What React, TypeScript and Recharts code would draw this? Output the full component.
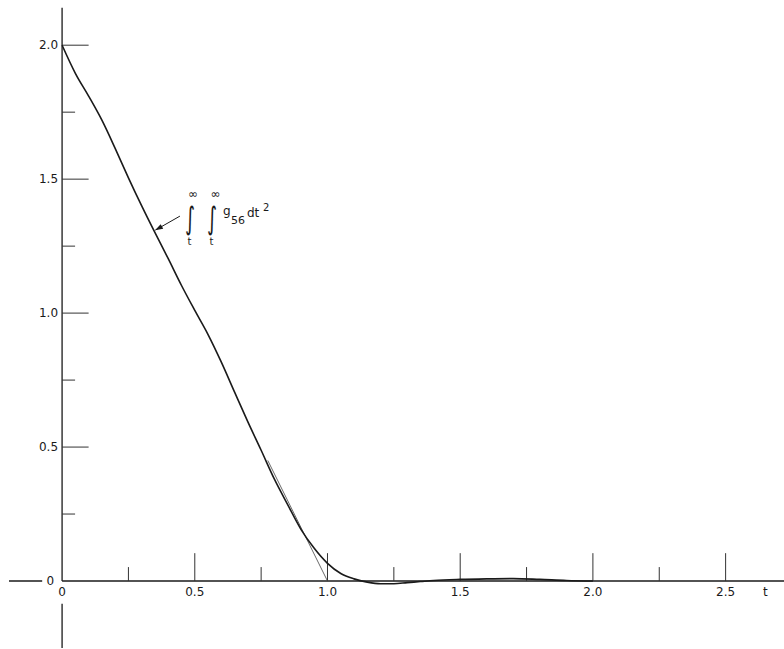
import { ComposedChart, Line, XAxis, YAxis, ReferenceLine, ReferenceDot } from 'recharts';

// curve
const tValues = [0, 0.05, 0.1, 0.15, 0.2, 0.25, 0.3, 0.35, 0.4, 0.45, 0.5, 0.55, 0.6, 0.65, 0.7, 0.75, 0.8, 0.85, 0.9, 0.95, 1.0, 1.05, 1.1, 1.15, 1.2, 1.25, 1.3, 1.35, 1.4, 1.5, 1.6, 1.7, 1.8, 1.9, 2.0];
const gValues = [2.0, 1.895, 1.81, 1.72, 1.615, 1.505, 1.4, 1.3, 1.203, 1.103, 1.01, 0.92, 0.817, 0.705, 0.594, 0.488, 0.38, 0.285, 0.193, 0.122, 0.066, 0.028, 0.008, -0.004, -0.01, -0.01, -0.006, -0.002, 0.002, 0.006, 0.008, 0.009, 0.006, 0.002, 0];

// thin straight line near t = 1
const tangentT = [0.775, 1.0];
const tangentG = [0.45, 0];

const xMajorTicks = [0.5, 1, 1.5, 2, 2.5];
const xMinorTicks = [0.25, 0.75, 1.25, 1.75, 2.25];
const xLabelValues = [0, 0.5, 1, 1.5, 2, 2.5];
const xLabels = ['0', '0.5', '1.0', '1.5', '2.0', '2.5'];

const yMajorTicks = [0.5, 1, 1.5, 2];
const yMinorTicks = [0.25, 0.75, 1.25, 1.75];
const yLabelValues = [0, 0.5, 1, 1.5, 2];
const yLabels = ['0', '0.5', '1.0', '1.5', '2.0'];

const curve = tValues.map((t, i) => ({ t, g: gValues[i] }));
const tangent = tangentT.map((t, i) => ({ t, g: tangentG[i] }));

const FONT = 'DejaVu Sans, sans-serif';
const INK = '#1a1a1a';

const Annotation = ({ cx, cy }: any) => {
  const txt = (dx: number, dy: number, s: string, size: number, anchor: 'start' | 'middle' = 'start') => (
    <text x={cx + dx} y={cy + dy} fontSize={size} fontFamily={FONT} fill={INK} textAnchor={anchor}>{s}</text>
  );
  // tall, thin integral sign
  const integral = (dx: number) => (
    <text x={0} y={0} fontSize={24} fontFamily={FONT} fill={INK} textAnchor="middle"
      transform={`translate(${cx + dx},${cy + 13}) scale(0.8,1.3)`}>∫</text>
  );
  return (
    <g>
      {txt(13, -18, '∞', 12, 'middle')}
      {integral(10)}
      {txt(9.5, 29, 't', 10, 'middle')}
      {txt(35.5, -18, '∞', 12, 'middle')}
      {integral(32)}
      {txt(31.5, 29, 't', 10, 'middle')}
      {txt(43, -1, 'g', 12)}
      {txt(51, 8, '56', 11)}
      {txt(67, 1, 'dt', 12)}
      {txt(83, -5, '2', 10)}
    </g>
  );
};

const ArrowHead = ({ cx, cy }: any) => (
  <polygon points="0,0 -8,-2.6 -8,2.6" fill={INK} transform={`translate(${cx},${cy}) rotate(150.7)`} />
);

export default function App() {
  return (
    <div style={{ position: 'absolute', left: 0, top: 0, background: '#fff' }}>
      <ComposedChart width={784} height={649} data={curve} margin={{ top: 5, right: 0, bottom: 1, left: 9 }}>
        <XAxis type="number" dataKey="t" domain={[-0.2, 2.72]} hide />
        <YAxis type="number" domain={[-0.25, 2.15]} hide />

        {/* axes */}
        <ReferenceLine segment={[{ x: 0, y: 0 }, { x: 2.72, y: 0 }]} stroke={INK} strokeWidth={1.3} />
        <ReferenceLine segment={[{ x: -0.2, y: 0 }, { x: -0.075, y: 0 }]} stroke={INK} strokeWidth={1.3} />
        <ReferenceLine segment={[{ x: 0, y: 0 }, { x: 0, y: 2.14 }]} stroke={INK} strokeWidth={1.3} />
        <ReferenceLine segment={[{ x: 0, y: -0.085 }, { x: 0, y: -0.25 }]} stroke={INK} strokeWidth={1.3} />

        {xMajorTicks.map((v) => (
          <ReferenceLine key={'xM' + v} segment={[{ x: v, y: 0 }, { x: v, y: 0.104 }]} stroke="#333" strokeWidth={1} />
        ))}
        {xMinorTicks.map((v) => (
          <ReferenceLine key={'xm' + v} segment={[{ x: v, y: 0 }, { x: v, y: 0.052 }]} stroke="#333" strokeWidth={1} />
        ))}
        {yMajorTicks.map((v) => (
          <ReferenceLine key={'yM' + v} segment={[{ x: 0, y: v }, { x: 0.1, y: v }]} stroke="#333" strokeWidth={1} />
        ))}
        {yMinorTicks.map((v) => (
          <ReferenceLine key={'ym' + v} segment={[{ x: 0, y: v }, { x: 0.049, y: v }]} stroke="#333" strokeWidth={1} />
        ))}

        {xLabelValues.map((v, i) => (
          <ReferenceDot key={'xl' + v} x={v} y={0} r={0} fill="none" stroke="none"
            label={{ value: xLabels[i], position: 'bottom', offset: 6, fontSize: 12, fontFamily: FONT, fill: INK }} />
        ))}
        <ReferenceDot x={2.65} y={0} r={0} fill="none" stroke="none"
          label={{ value: 't', position: 'bottom', offset: 6, fontSize: 12, fontFamily: FONT, fill: INK }} />
        {yLabelValues.map((v, i) => (
          <ReferenceDot key={'yl' + v} x={0} y={v} r={0} fill="none" stroke="none"
            label={{ value: yLabels[i], position: 'left', offset: v === 0 ? 8 : 4, fontSize: 12, fontFamily: FONT, fill: INK }} />
        ))}

        <Line data={tangent} dataKey="g" type="linear" stroke="#444" strokeWidth={0.8} dot={false} isAnimationActive={false} />
        <Line dataKey="g" type="monotone" stroke={INK} strokeWidth={1.6} dot={false} isAnimationActive={false} />

        {/* label arrow */}
        <ReferenceLine segment={[{ x: 0.444, y: 1.362 }, { x: 0.352, y: 1.31 }]} stroke={INK} strokeWidth={1} />
        <ReferenceDot x={0.35} y={1.309} r={0} shape={ArrowHead} />
        <ReferenceDot x={0.444} y={1.362} r={0} shape={Annotation} />
      </ComposedChart>
    </div>
  );
}
